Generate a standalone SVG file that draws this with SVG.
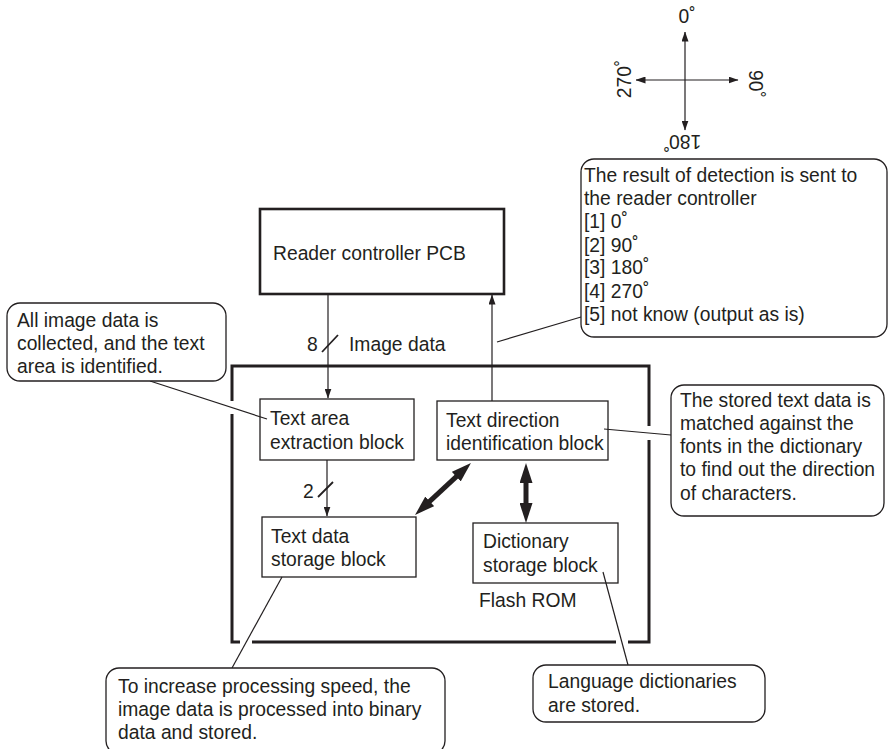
<svg xmlns="http://www.w3.org/2000/svg" width="889" height="749" viewBox="0 0 889 749">
<style>
text{font-family:"Liberation Sans",Arial,sans-serif;font-size:19.3px;fill:#231f20}
.blk{fill:#fff;stroke:#231f20;stroke-width:1.3}
.call{fill:#fff;stroke:#231f20;stroke-width:1.3}
.ln{fill:none;stroke:#231f20;stroke-width:1.2}
.thick{fill:none;stroke:#231f20;stroke-width:5}
</style>
<defs>
<marker id="ah" viewBox="0 0 10 7" refX="9.5" refY="3.5" markerWidth="10" markerHeight="7" markerUnits="userSpaceOnUse" orient="auto-start-reverse"><path d="M0,0 L10,3.5 L0,7 z" fill="#231f20"/></marker>
<marker id="big" viewBox="0 0 20 13" refX="3" refY="6.5" markerWidth="20" markerHeight="13" markerUnits="userSpaceOnUse" orient="auto-start-reverse"><path d="M0,0 L20,6.5 L0,13 z" fill="#231f20"/></marker>
</defs>

<g id="compass">
<line class="ln" x1="685" y1="80" x2="685" y2="32" marker-end="url(#ah)"/>
<line class="ln" x1="685" y1="80" x2="685" y2="130" marker-end="url(#ah)"/>
<line class="ln" x1="685" y1="80" x2="636" y2="80" marker-end="url(#ah)"/>
<line class="ln" x1="685" y1="80" x2="738" y2="80" marker-end="url(#ah)"/>
<text x="687" y="23" text-anchor="middle">0˚</text>
<text transform="translate(749,84) rotate(90)" text-anchor="middle">90˚</text>
<text transform="translate(631,79) rotate(-90)" text-anchor="middle">270˚</text>
<text transform="translate(682,135) rotate(180)" text-anchor="middle">180˚</text>
</g>

<g id="main-box">
<path d="M232,401 V366 H649 V426 M649,440 V642 H628 M616,642 H252 M240,642 H232 V414" fill="none" stroke="#231f20" stroke-width="3"/>
</g>

<g id="pcb">
<rect x="260" y="209" width="244" height="85" fill="#fff" stroke="#231f20" stroke-width="2.6"/>
<text x="273" y="260">Reader controller PCB</text>
</g>

<g id="text-area">
<rect class="blk" x="260" y="399" width="154" height="61"/>
<text x="270" y="425">Text area</text>
<text x="270" y="449">extraction block</text>
</g>

<g id="text-direction">
<rect class="blk" x="437" y="401" width="171" height="59"/>
<text x="446" y="427">Text direction</text>
<text x="446" y="450">identification block</text>
</g>

<g id="text-data">
<rect class="blk" x="262" y="517" width="154" height="60"/>
<text x="271" y="543">Text data</text>
<text x="271" y="566">storage block</text>
</g>

<g id="dictionary">
<rect class="blk" x="473" y="523" width="145" height="60"/>
<text x="483" y="548">Dictionary</text>
<text x="483" y="572">storage block</text>
<text x="479" y="607">Flash ROM</text>
</g>

<g id="connectors">
<line class="ln" x1="328" y1="294" x2="328" y2="398" marker-end="url(#ah)"/>
<line x1="322" y1="352" x2="338" y2="335" stroke="#231f20" stroke-width="1.8"/>
<text x="307" y="351">8</text>
<text x="349" y="351">Image data</text>
<line class="ln" x1="492" y1="401" x2="492" y2="295" marker-end="url(#ah)"/>
<line class="ln" x1="327" y1="460" x2="327" y2="516" marker-end="url(#ah)"/>
<line x1="318" y1="497" x2="333" y2="482" stroke="#231f20" stroke-width="1.8"/>
<text x="303" y="498">2</text>
<line class="thick" x1="427.5" y1="503.4" x2="458.5" y2="474.6" marker-start="url(#big)" marker-end="url(#big)"/>
<line class="thick" x1="526" y1="480" x2="526" y2="506" marker-start="url(#big)" marker-end="url(#big)"/>
<line class="ln" x1="150" y1="381" x2="267" y2="419"/>
<line class="ln" x1="497" y1="342" x2="581" y2="317"/>
<line class="ln" x1="604" y1="429" x2="671" y2="435"/>
<line class="ln" x1="282" y1="577" x2="232" y2="668"/>
<line class="ln" x1="603" y1="572" x2="628" y2="665"/>
</g>

<g id="callout-result">
<rect class="call" x="581" y="159" width="306" height="178" rx="13"/>
<text x="584" y="182">The result of detection is sent to</text>
<text x="584" y="205">the reader controller</text>
<text x="584" y="228">[1] 0˚</text>
<text x="584" y="252">[2] 90˚</text>
<text x="584" y="274">[3] 180˚</text>
<text x="584" y="298">[4] 270˚</text>
<text x="584" y="321">[5] not know (output as is)</text>
</g>

<g id="callout-collect">
<rect class="call" x="7" y="303" width="219" height="78" rx="13"/>
<text x="17" y="327">All image data is</text>
<text x="17" y="350">collected, and the text</text>
<text x="17" y="373">area is identified.</text>
</g>

<g id="callout-match">
<rect class="call" x="671" y="385" width="213" height="131" rx="13"/>
<text x="680" y="407">The stored text data is</text>
<text x="680" y="430">matched against the</text>
<text x="680" y="453">fonts in the dictionary</text>
<text x="680" y="476">to find out the direction</text>
<text x="680" y="500">of characters.</text>
</g>

<g id="callout-speed">
<rect class="call" x="106" y="668" width="339" height="86" rx="13"/>
<text x="118" y="693">To increase processing speed, the</text>
<text x="118" y="716">image data is processed into binary</text>
<text x="118" y="739">data and stored.</text>
</g>

<g id="callout-lang">
<rect class="call" x="533" y="665" width="232" height="57" rx="13"/>
<text x="548" y="688">Language dictionaries</text>
<text x="548" y="712">are stored.</text>
</g>
</svg>
